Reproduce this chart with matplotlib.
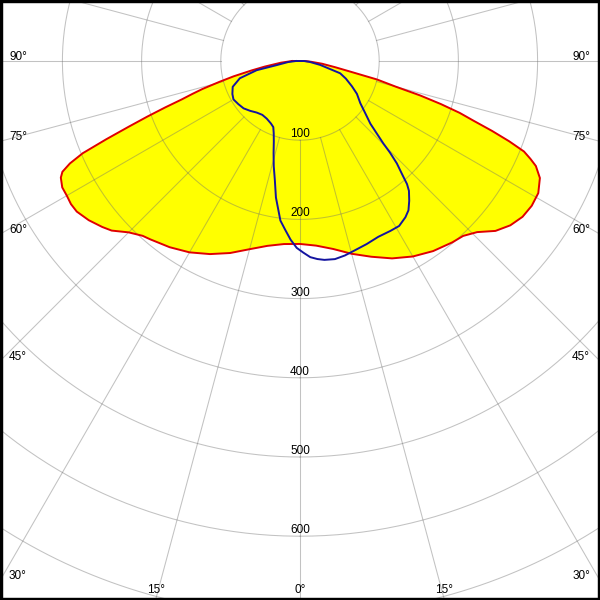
import numpy as np
import matplotlib
matplotlib.use("Agg")
import matplotlib.pyplot as plt

plt.rcParams['font.family'] = ['Liberation Sans', 'DejaVu Sans']

# C0 - C180 plane (red outline, yellow fill): angle from nadir (deg), intensity (cd)
red_angles = [-90, -85, -81, -79, -77, -75.5, -74, -73, -72, -71, -70, -69, -68, -67,
              -66, -65, -64, -62, -60, -58, -56, -53, -50, -48, -45, -42, -40, -35,
              -30, -25, -20, -15, -10, -5, 0, 5, 10, 15, 20, 25, 30, 35, 40, 43, 46,
              49, 52, 55, 58, 61, 64, 66, 67, 68, 69, 70, 71, 72, 73, 74, 75, 76.5,
              78, 80, 83, 86, 90]
red_values = [10, 24, 45, 62, 86, 105, 128, 142, 157, 180, 205, 232, 264, 298,
              318, 331, 336, 340, 340, 341, 340, 334, 326, 320, 306, 297, 294, 287,
              279, 269, 258, 246, 237, 232, 231, 234, 241, 252, 263, 275, 285, 293, 299, 302, 311,
              327, 337, 343, 345, 344, 337, 326, 316, 305, 283, 258, 232, 212, 186, 158, 125, 100,
              66, 45, 28, 14, 6]

# C90 - C270 plane (blue outline)
blue_angles = [-90, -85, -80, -78, -74, -69, -64, -60, -55, -50, -45, -40, -35, -30,
               -25, -22, -20, -18, -16, -14, -12, -10, -7, -5, -3, -1, 1, 3, 5, 7, 10,
               13, 16, 20, 24, 28, 31, 34, 36, 38, 40, 41, 42, 43.4, 44.5, 45.3, 47,
               48.3, 52, 55, 60, 64, 69, 73, 79, 85, 90]
blue_values = [5, 15, 30, 56, 79, 91, 95, 97, 95, 93, 89, 85, 83, 84,
               87, 90, 97, 107, 121, 137, 153, 175, 203, 214, 226, 236, 242, 248, 251, 253, 254,
               252, 249, 246, 243, 243, 243, 238, 233, 224, 214, 206, 193, 178, 162, 148, 130,
               119, 103, 93, 83, 73, 62, 53, 26, 12, 5]

ring_values = [100, 200, 300, 400, 500, 600]
angle_labels = [0, 15, 30, 45, 60, 75, 90]

# picture geometry (pixels)
scale = 0.792          # pixels per cd
cx, cy = 300, 61       # centre of the diagram
W = H = 600


def polar_xy(ang, val):
    t = np.radians(np.asarray(ang, dtype=float))
    v = np.asarray(val, dtype=float)
    return v * np.sin(t), -v * np.cos(t)


def pix(x, y):
    # pixel position -> data coords
    return (x - cx) / scale, (cy - y) / scale


fig = plt.figure(figsize=(6, 6), dpi=100)
ax = fig.add_axes([0, 0, 1, 1])
ax.set_xlim(-cx / scale, (W - cx) / scale)
ax.set_ylim(-(H - cy) / scale, cy / scale)
ax.set_aspect('equal')
ax.set_xticks([])
ax.set_yticks([])
for s in ax.spines.values():
    s.set_color('black')
    s.set_linewidth(3.9)

# filled C0-C180 curve
rx, ry = polar_xy(red_angles, red_values)
ax.fill(rx, ry, facecolor='#ffff00', edgecolor='none', zorder=1)

# grid on top of the fill
grid_kw = dict(color='#6e6e6e', alpha=0.42, lw=0.75, zorder=2)
t = np.linspace(0, 2 * np.pi, 721)
for r in range(100, 1100, 100):
    ax.plot(r * np.sin(t), -r * np.cos(t), **grid_kw)
for a in range(0, 360, 15):
    gx, gy = polar_xy([a, a], [100, 1200])
    ax.plot(gx, gy, **grid_kw)

# curves
ax.plot(np.append(rx, rx[0]), np.append(ry, ry[0]), color='#e00000', lw=1.4, zorder=4)
bx, by = polar_xy(blue_angles, blue_values)
ax.plot(np.append(bx, bx[0]), np.append(by, by[0]), color='#1414a0', lw=1.4, zorder=5)

# ring labels along the 0 deg line
for r in ring_values:
    ax.text(0, -r + 3 / scale, str(r), ha='center', va='baseline', fontsize=8.5, zorder=6)

# angle labels at the frame
for a in angle_labels:
    sides = [1] if a == 0 else [-1, 1]
    for sd in sides:
        if a > 0:
            ycross = cy + cx / np.tan(np.radians(a))
        else:
            ycross = 1e9
        if ycross <= H - 3:
            if sd < 0:
                x, y = pix(9, ycross - 1.5)
                ha = 'left'
            else:
                x, y = pix(590, ycross - 1.5)
                ha = 'right'
        else:
            xb = cx + sd * (H - 3 - cy) * np.tan(np.radians(a))
            x, y = pix(xb, 592.5)
            ha = 'center'
        ax.text(x, y, f'{a}°', ha=ha, va='baseline', fontsize=8.5, zorder=6)

fig.savefig('out.png', dpi=100)
